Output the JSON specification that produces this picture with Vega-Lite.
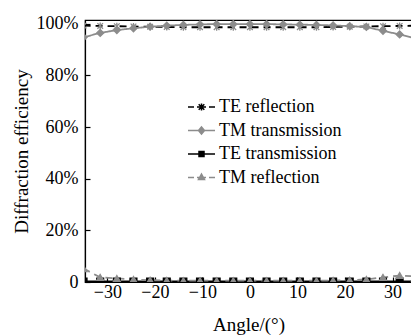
{
  "$schema": "https://vega.github.io/schema/vega-lite/v6.json",
  "autosize": {"type": "none"},
  "padding": {"left": 85, "top": 20, "right": 0, "bottom": 53},
  "width": 327,
  "height": 262,
  "background": "white",
  "config": {
    "view": {"stroke": "black", "strokeWidth": 1.2},
    "axis": {
      "grid": false,
      "domainColor": "black",
      "domainWidth": 1.2,
      "tickColor": "black",
      "tickSize": -5,
      "tickWidth": 1.2,
      "labelFont": "Liberation Serif",
      "labelFontSize": 18,
      "labelColor": "black",
      "titleFont": "Liberation Serif",
      "titleFontSize": 19,
      "titleFontWeight": "normal",
      "titleColor": "black"
    }
  },
  "data": {"values": [
    {"angle": -35, "series": "TE reflection", "eff": 99.3},
    {"angle": -31.5, "series": "TE reflection", "eff": 99.2},
    {"angle": -28, "series": "TE reflection", "eff": 99.1},
    {"angle": -24.5, "series": "TE reflection", "eff": 99.0},
    {"angle": -21, "series": "TE reflection", "eff": 98.9},
    {"angle": -17.5, "series": "TE reflection", "eff": 98.8},
    {"angle": -14, "series": "TE reflection", "eff": 98.7},
    {"angle": -10.5, "series": "TE reflection", "eff": 98.7},
    {"angle": -7, "series": "TE reflection", "eff": 98.7},
    {"angle": -3.5, "series": "TE reflection", "eff": 98.7},
    {"angle": 0, "series": "TE reflection", "eff": 98.7},
    {"angle": 3.5, "series": "TE reflection", "eff": 98.7},
    {"angle": 7, "series": "TE reflection", "eff": 98.7},
    {"angle": 10.5, "series": "TE reflection", "eff": 98.7},
    {"angle": 14, "series": "TE reflection", "eff": 98.7},
    {"angle": 17.5, "series": "TE reflection", "eff": 98.8},
    {"angle": 21, "series": "TE reflection", "eff": 98.9},
    {"angle": 24.5, "series": "TE reflection", "eff": 99.0},
    {"angle": 28, "series": "TE reflection", "eff": 99.1},
    {"angle": 31.5, "series": "TE reflection", "eff": 99.2},
    {"angle": 35, "series": "TE reflection", "eff": 99.3},
    {"angle": -35, "series": "TM transmission", "eff": 94.8},
    {"angle": -31.5, "series": "TM transmission", "eff": 96.5},
    {"angle": -28, "series": "TM transmission", "eff": 97.6},
    {"angle": -24.5, "series": "TM transmission", "eff": 98.3},
    {"angle": -21, "series": "TM transmission", "eff": 98.9},
    {"angle": -17.5, "series": "TM transmission", "eff": 99.3},
    {"angle": -14, "series": "TM transmission", "eff": 99.6},
    {"angle": -10.5, "series": "TM transmission", "eff": 99.8},
    {"angle": -7, "series": "TM transmission", "eff": 99.9},
    {"angle": -3.5, "series": "TM transmission", "eff": 99.9},
    {"angle": 0, "series": "TM transmission", "eff": 99.9},
    {"angle": 3.5, "series": "TM transmission", "eff": 99.9},
    {"angle": 7, "series": "TM transmission", "eff": 99.8},
    {"angle": 10.5, "series": "TM transmission", "eff": 99.7},
    {"angle": 14, "series": "TM transmission", "eff": 99.6},
    {"angle": 17.5, "series": "TM transmission", "eff": 99.4},
    {"angle": 21, "series": "TM transmission", "eff": 99.1},
    {"angle": 24.5, "series": "TM transmission", "eff": 98.8},
    {"angle": 28, "series": "TM transmission", "eff": 97.3},
    {"angle": 31.5, "series": "TM transmission", "eff": 95.9},
    {"angle": 35, "series": "TM transmission", "eff": 94.3},
    {"angle": -35, "series": "TE transmission", "eff": 0.2},
    {"angle": -31.5, "series": "TE transmission", "eff": 0.2},
    {"angle": -28, "series": "TE transmission", "eff": 0.2},
    {"angle": -24.5, "series": "TE transmission", "eff": 0.2},
    {"angle": -21, "series": "TE transmission", "eff": 0.2},
    {"angle": -17.5, "series": "TE transmission", "eff": 0.2},
    {"angle": -14, "series": "TE transmission", "eff": 0.2},
    {"angle": -10.5, "series": "TE transmission", "eff": 0.2},
    {"angle": -7, "series": "TE transmission", "eff": 0.2},
    {"angle": -3.5, "series": "TE transmission", "eff": 0.2},
    {"angle": 0, "series": "TE transmission", "eff": 0.2},
    {"angle": 3.5, "series": "TE transmission", "eff": 0.2},
    {"angle": 7, "series": "TE transmission", "eff": 0.2},
    {"angle": 10.5, "series": "TE transmission", "eff": 0.2},
    {"angle": 14, "series": "TE transmission", "eff": 0.2},
    {"angle": 17.5, "series": "TE transmission", "eff": 0.2},
    {"angle": 21, "series": "TE transmission", "eff": 0.2},
    {"angle": 24.5, "series": "TE transmission", "eff": 0.2},
    {"angle": 28, "series": "TE transmission", "eff": 0.2},
    {"angle": 31.5, "series": "TE transmission", "eff": 0.2},
    {"angle": 35, "series": "TE transmission", "eff": 0.2},
    {"angle": -35, "series": "TM reflection", "eff": 5.2},
    {"angle": -31.5, "series": "TM reflection", "eff": 1.8},
    {"angle": -28, "series": "TM reflection", "eff": 1.4},
    {"angle": -24.5, "series": "TM reflection", "eff": 1.0},
    {"angle": -21, "series": "TM reflection", "eff": 0.7},
    {"angle": -17.5, "series": "TM reflection", "eff": 0.6},
    {"angle": -14, "series": "TM reflection", "eff": 0.5},
    {"angle": -10.5, "series": "TM reflection", "eff": 0.5},
    {"angle": -7, "series": "TM reflection", "eff": 0.5},
    {"angle": -3.5, "series": "TM reflection", "eff": 0.5},
    {"angle": 0, "series": "TM reflection", "eff": 0.5},
    {"angle": 3.5, "series": "TM reflection", "eff": 0.5},
    {"angle": 7, "series": "TM reflection", "eff": 0.5},
    {"angle": 10.5, "series": "TM reflection", "eff": 0.5},
    {"angle": 14, "series": "TM reflection", "eff": 0.5},
    {"angle": 17.5, "series": "TM reflection", "eff": 0.6},
    {"angle": 21, "series": "TM reflection", "eff": 0.7},
    {"angle": 24.5, "series": "TM reflection", "eff": 1.0},
    {"angle": 28, "series": "TM reflection", "eff": 1.8},
    {"angle": 31.5, "series": "TM reflection", "eff": 2.5},
    {"angle": 35, "series": "TM reflection", "eff": 2.2}
  ]},
  "encoding": {
    "x": {
      "field": "angle", "type": "quantitative",
      "scale": {"domain": [-34.7, 34.1], "nice": false, "zero": false},
      "axis": {"values": [-30, -20, -10, 0, 10, 20, 30], "title": "Angle/(°)", "labelPadding": 6, "titlePadding": 14}
    },
    "y": {
      "field": "eff", "type": "quantitative",
      "scale": {"domain": [0, 101.5], "nice": false},
      "axis": {"values": [0, 20, 40, 60, 80, 100], "title": "Diffraction efficiency",
               "labelExpr": "datum.value === 0 ? '0' : datum.value + '%'", "labelPadding": 12, "titlePadding": 5}
    }
  },
  "layer": [
    {
      "mark": {"type": "line", "strokeWidth": 1.8, "clip": true},
      "encoding": {
        "color": {"field": "series", "type": "nominal",
          "scale": {"domain": ["TE reflection", "TM transmission", "TE transmission", "TM reflection"],
                    "range": ["#000000", "#8c8c8c", "#000000", "#8c8c8c"]},
          "legend": null},
        "strokeDash": {"field": "series", "type": "nominal",
          "scale": {"domain": ["TE reflection", "TM transmission", "TE transmission", "TM reflection"],
                    "range": [[7, 5], [1, 0], [1, 0], [7, 5]]},
          "legend": null}
      }
    },
    {
      "mark": {"type": "point", "strokeWidth": 1.3, "opacity": 1, "clip": true},
      "encoding": {
        "shape": {"field": "series", "type": "nominal",
          "scale": {"domain": ["TE reflection", "TM transmission", "TE transmission", "TM reflection"],
                    "range": ["M-0.8,-0.8L0.8,0.8M-0.8,0.8L0.8,-0.8M0,-1V1", "diamond", "square", "triangle-up"]},
          "legend": null},
        "size": {"field": "series", "type": "nominal",
          "scale": {"domain": ["TE reflection", "TM transmission", "TE transmission", "TM reflection"],
                    "range": [50, 45, 14, 38]},
          "legend": null},
        "fill": {"field": "series", "type": "nominal",
          "scale": {"domain": ["TE reflection", "TM transmission", "TE transmission", "TM reflection"],
                    "range": ["transparent", "#8c8c8c", "#000000", "#8c8c8c"]},
          "legend": null},
        "stroke": {"field": "series", "type": "nominal",
          "scale": {"domain": ["TE reflection", "TM transmission", "TE transmission", "TM reflection"],
                    "range": ["#8c8c8c", "#8c8c8c", "#000000", "#8c8c8c"]},
          "legend": null}
      }
    },
    {
      "transform": [{"filter": "datum.eff > 1000"}],
      "mark": {"type": "point", "opacity": 1, "filled": true, "strokeWidth": 1.5},
      "encoding": {
        "stroke": {"field": "series", "type": "nominal",
          "scale": {"domain": ["TE reflection", "TM transmission", "TE transmission", "TM reflection"],
                    "range": ["#000000", "#8c8c8c", "#000000", "#8c8c8c"]}},
        "fill": {"field": "series", "type": "nominal",
          "scale": {"domain": ["TE reflection", "TM transmission", "TE transmission", "TM reflection"],
                    "range": ["transparent", "#8c8c8c", "#000000", "#8c8c8c"]}},
        "shape": {"field": "series", "type": "nominal",
          "scale": {"domain": ["TE reflection", "TM transmission", "TE transmission", "TM reflection"],
                    "range": [
                      "M-1.35,0H-0.75M-0.45,0H0.45M0.75,0H1.35M-0.28,-0.28L0.28,0.28M-0.28,0.28L0.28,-0.28M0,-0.35V0.35",
                      "M-1.35,0H1.35M0,-0.35L0.3,0L0,0.35L-0.3,0Z",
                      "M-1.35,0H1.35M-0.25,-0.25H0.25V0.25H-0.25Z",
                      "M-1.35,0H-0.75M-0.45,0H0.45M0.75,0H1.35M0,-0.35L0.3,0.2L-0.3,0.2Z"
                    ]},
          "legend": {
            "title": null,
            "orient": "none",
            "legendX": 105.5,
            "legendY": 76,
            "padding": 0,
            "rowPadding": 3.5,
            "symbolSize": 400,
            "symbolStrokeWidth": 1.5,
            "symbolOpacity": 1,
            "labelOffset": 6.5,
            "labelFont": "Liberation Serif",
            "labelFontSize": 18,
            "labelColor": "black",
            "labelLimit": 300
          }
        }
      }
    }
  ],
  "resolve": {"scale": {"shape": "independent", "size": "independent", "stroke": "independent", "fill": "independent"}}
}
